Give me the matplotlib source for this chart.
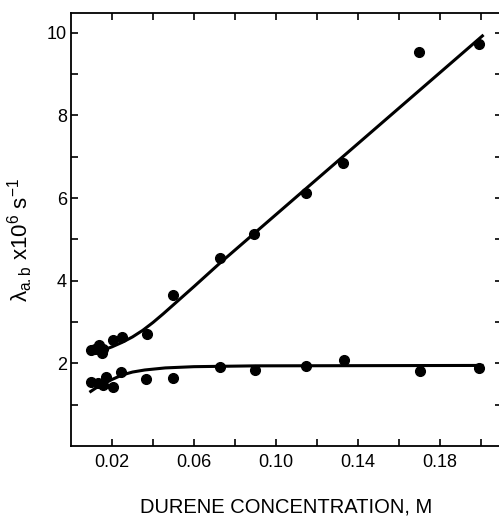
import matplotlib
matplotlib.use("Agg")
import matplotlib.pyplot as plt

plt.rcParams['font.family'] = ['Liberation Sans', 'DejaVu Sans']
plt.rcParams['mathtext.fontset'] = 'custom'
plt.rcParams['mathtext.rm'] = 'Liberation Sans'
plt.rcParams['mathtext.it'] = 'Liberation Sans'

# measured points (durene concentration in M, rate in 1e6 s^-1)
conc_upper = [0.0096, 0.0117, 0.0138, 0.0153, 0.0158, 0.0203, 0.0247, 0.0369,
              0.0499, 0.0727, 0.0893, 0.1146, 0.1328, 0.1699, 0.1989]
rate_upper = [2.32, 2.34, 2.45, 2.24, 2.34, 2.57, 2.65, 2.72,
              3.65, 4.54, 5.12, 6.13, 6.84, 9.53, 9.73]
conc_lower = [0.0096, 0.0133, 0.0158, 0.0171, 0.0206, 0.0242, 0.0366,
              0.0496, 0.0727, 0.0898, 0.1148, 0.1330, 0.1700, 0.1990]
rate_lower = [1.56, 1.52, 1.47, 1.67, 1.43, 1.79, 1.63,
              1.64, 1.90, 1.83, 1.93, 2.07, 1.81, 1.89]

# fitted curves
fit_upper_x = [0.009, 0.015, 0.02, 0.025, 0.03, 0.035, 0.04, 0.045, 0.05, 0.055,
               0.06, 0.0727, 0.2012]
fit_upper_y = [2.22, 2.31, 2.40, 2.51, 2.64, 2.80, 2.99, 3.20, 3.42, 3.64,
               3.86, 4.43, 9.95]
fit_lower_x = [0.009, 0.012, 0.016, 0.02, 0.025, 0.03, 0.036, 0.046, 0.06, 0.09, 0.2012]
fit_lower_y = [1.30, 1.40, 1.51, 1.61, 1.72, 1.79, 1.84, 1.89, 1.92, 1.94, 1.95]

x_ticks = [0.02, 0.04, 0.06, 0.08, 0.10, 0.12, 0.14, 0.16, 0.18, 0.20]
x_labels = ['0.02', '', '0.06', '', '0.10', '', '0.14', '', '0.18', '']
y_ticks = [1, 2, 3, 4, 5, 6, 7, 8, 9, 10]
y_labels = ['', '2', '', '4', '', '6', '', '8', '', '10']

fig = plt.figure(figsize=(4.99, 5.18), dpi=100)
ax = fig.add_axes([71/499, 72/518, 431/499, 433/518])

ax.plot(fit_upper_x, fit_upper_y, color='black', lw=2.2, solid_capstyle='butt')
ax.plot(fit_lower_x, fit_lower_y, color='black', lw=2.2, solid_capstyle='butt')
ax.plot(conc_upper, rate_upper, 'o', color='black', ms=7)
ax.plot(conc_lower, rate_lower, 'o', color='black', ms=7)

ax.set_xlim(0, 0.2102)
ax.set_ylim(0, 10.48)
ax.set_xticks(x_ticks)
ax.set_xticklabels(x_labels)
ax.set_yticks(y_ticks)
ax.set_yticklabels(y_labels)
ax.tick_params(direction='in', length=5, width=1.2, top=True, right=True,
               labelsize=13, color='black')
ax.tick_params(axis='x', pad=6)
ax.tick_params(axis='y', pad=3)
for s in ax.spines.values():
    s.set_linewidth(1.3)

fig.text(286/499, 1 - 507/518, 'DURENE CONCENTRATION, M', ha='center', va='center',
         fontsize=14.5)
fig.text(20/499, 1 - 240/518, r'$\lambda_{\mathrm{a.b}}\ \mathrm{x10^{6}\ s^{-1}}$',
         rotation=90, ha='center', va='center', fontsize=16)

plt.savefig('out.png', dpi=100)
